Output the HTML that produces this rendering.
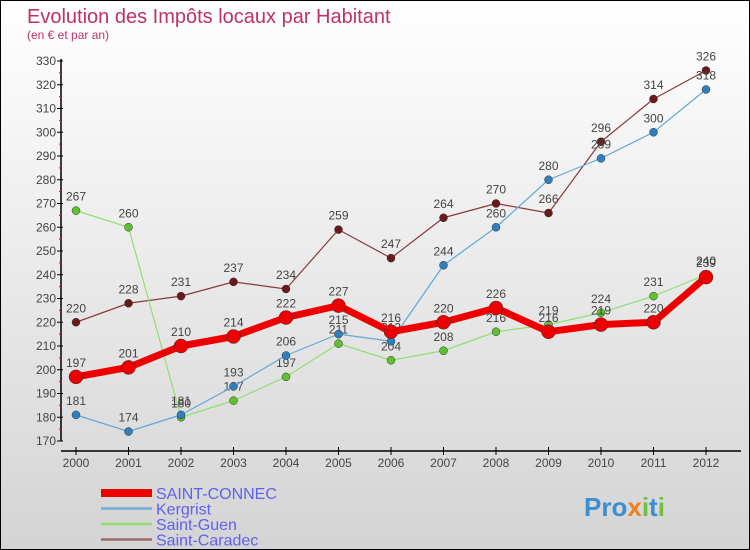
<!DOCTYPE html>
<html><head><meta charset="utf-8"><style>
body{margin:0}
#c{position:relative;width:748px;height:548px;border:1px solid #000;background:linear-gradient(#fff,#d4d4d4);font-family:"Liberation Sans",sans-serif;overflow:hidden}
</style></head><body>
<div id="c">
<svg width="748" height="548" style="position:absolute;left:0;top:0" id="s">
<text x="26" y="22" font-size="20" fill="#c0306a">Evolution des Impôts locaux par Habitant</text>
<text x="26" y="38" font-size="12" fill="#c0306a">(en € et par an)</text>
<g id="axes"></g><g id="series"></g><g id="legend"></g>
<text x="583" y="515" font-size="26" font-weight="bold" fill="#3a8fd0">Pro<tspan fill="#f08020">x</tspan><tspan fill="#70c040">i</tspan>t<tspan fill="#70c040">i</tspan></text>
</svg>
</div>
<script>
const years=[2000,2001,2002,2003,2004,2005,2006,2007,2008,2009,2010,2011,2012];
const yTicks=[170,180,190,200,210,220,230,240,250,260,270,280,290,300,310,320,330];
const saintConnec=[197,201,210,214,222,227,216,220,226,216,219,220,239];
const kergrist=[181,174,181,193,206,215,212,244,260,280,289,300,318];
const saintGuen=[267,260,180,187,197,211,204,208,216,219,224,231,240];
const saintCaradec=[220,228,231,237,234,259,247,264,270,266,296,314,326];
const names=["SAINT-CONNEC","Kergrist","Saint-Guen","Saint-Caradec"];
const NS="http://www.w3.org/2000/svg";
const X=i=>75+i*52.5, Y=v=>440-(v-170)*(380/160);
function mk(t,a,p){const e=document.createElementNS(NS,t);for(const k in a)e.setAttribute(k,a[k]);p.appendChild(e);return e;}
const ax=document.getElementById('axes');
let l=mk('line',{x1:60,y1:58,x2:60,y2:440,stroke:'#000','stroke-width':1.5},ax);


l=mk('line',{x1:60,y1:450,x2:740,y2:450,stroke:'#000','stroke-width':1.5},ax);


yTicks.forEach((v,i)=>{
 mk('line',{x1:56,y1:Y(v),x2:62,y2:Y(v),stroke:'#000'},ax);
 if(i<yTicks.length-1) mk('line',{x1:58,y1:Y(v+5),x2:61,y2:Y(v+5),stroke:'#e00'},ax);
 const t=mk('text',{x:55,y:Y(v)+4,'font-size':12,fill:'#444','text-anchor':'end'},ax);t.textContent=v;
 
 
});
years.forEach((y,i)=>{
 mk('line',{x1:X(i),y1:446,x2:X(i),y2:454,stroke:'#000'},ax);
 const t=mk('text',{x:X(i),y:466,'font-size':12,fill:'#444','text-anchor':'middle'},ax);t.textContent=y;
 
 
});
const sg=document.getElementById('series');
const defs=[[saintCaradec,'#8a3a3a','#6a1a1a',1.2,4,'saint-caradec'],[saintGuen,'#90e070','#60c030',1.2,4,'saint-guen'],[kergrist,'#60a8d8','#3080c0',1.2,4,'kergrist'],[saintConnec,'#ee0000','#ee0000',7,7,'saint-connec']];
defs.forEach(([d,c,mc,w,r,n])=>{
 const p=mk('polyline',{points:d.map((v,i)=>X(i)+','+Y(v)).join(' '),fill:'none',stroke:c,'stroke-width':w,'stroke-linejoin':'round'},sg);
 
 
 d.forEach((v,i)=>{
  const m=mk('circle',{cx:X(i),cy:Y(v),r:r,fill:mc,stroke:'#333','stroke-width':0.5},sg);
  
  
  const t=mk('text',{x:X(i),y:Y(v)-10,'font-size':12,fill:'#444','text-anchor':'middle'},sg);t.textContent=v;
  
  
 });
});
const lg=document.getElementById('legend');
const lc=['#ee0000','#70acd8','#90e070','#9a6a6a'],lw=[8,2.5,2.5,2.5];
names.forEach((n,i)=>{
 const y=492+i*15.5;
 const e=mk('line',{x1:100,y1:y,x2:151,y2:y,stroke:lc[i],'stroke-width':lw[i]},lg);
 
 
 const t=mk('text',{x:155,y:y+6,'font-size':16,fill:'#6060f0'},lg);t.textContent=n;
 
 
});
</script>
</body></html>
